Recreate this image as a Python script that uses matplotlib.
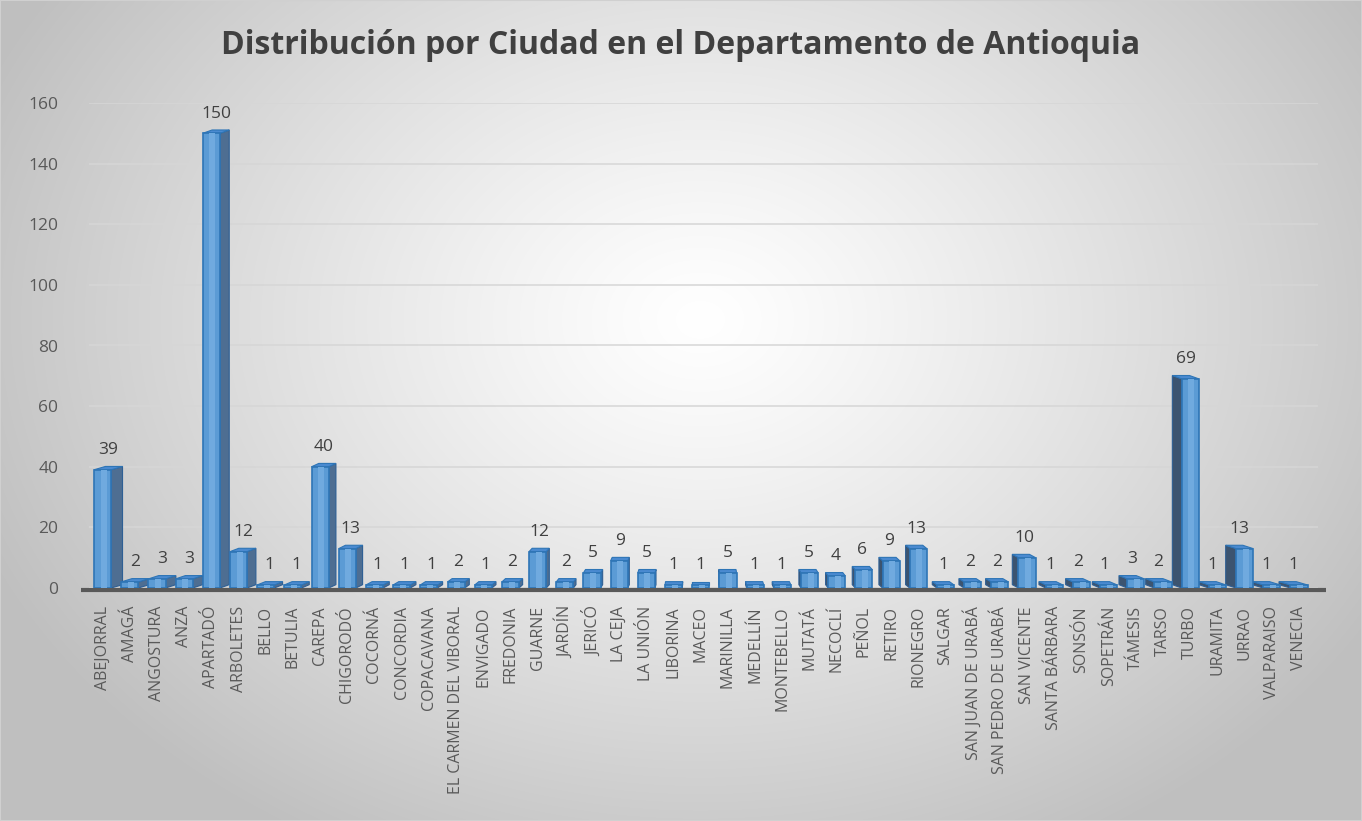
import numpy as np
import matplotlib
matplotlib.use("Agg")
import matplotlib.pyplot as plt
from matplotlib import font_manager
from matplotlib.patches import Rectangle

ciudades = ["ABEJORRAL", "AMAGÁ", "ANGOSTURA", "ANZA", "APARTADÓ", "ARBOLETES", "BELLO",
            "BETULIA", "CAREPA", "CHIGORODÓ", "COCORNÁ", "CONCORDIA", "COPACAVANA",
            "EL CARMEN DEL VIBORAL", "ENVIGADO", "FREDONIA", "GUARNE", "JARDÍN", "JERICÓ",
            "LA CEJA", "LA UNIÓN", "LIBORINA", "MACEO", "MARINILLA", "MEDELLÍN",
            "MONTEBELLO", "MUTATÁ", "NECOCLÍ", "PEÑOL", "RETIRO", "RIONEGRO", "SALGAR",
            "SAN JUAN DE URABÁ", "SAN PEDRO DE URABÁ", "SAN VICENTE", "SANTA BÁRBARA",
            "SONSÓN", "SOPETRÁN", "TÁMESIS", "TARSO", "TURBO", "URAMITA", "URRAO",
            "VALPARAISO", "VENECIA"]
cantidad = [39, 2, 3, 3, 150, 12, 1, 1, 40, 13, 1, 1, 1, 2, 1, 2, 12, 2, 5, 9, 5, 1, 1, 5,
            1, 1, 5, 4, 6, 9, 13, 1, 2, 2, 10, 1, 2, 1, 3, 2, 69, 1, 13, 1, 1]
y_ticks = [0, 20, 40, 60, 80, 100, 120, 140, 160]

titulo = "Distribución por Ciudad en el Departamento de Antioquia"

W, H = 1362, 821
fig = plt.figure(figsize=(W / 100, H / 100), dpi=100)

# radial gradient background
bg = fig.add_axes([0, 0, 1, 1], zorder=-10)
yy, xx = np.mgrid[0:H, 0:W]
r = np.sqrt(((xx - 700) / 780.0) ** 2 + ((yy - 320) / 600.0) ** 2)
r = np.clip(r, 0, 1)
shade = 1.0 - 0.25 * r ** 1.2
bg.imshow(np.dstack([shade] * 3), extent=[0, 1, 0, 1], aspect="auto")
bg.axis("off")
fig.patches.append(Rectangle((0, 0), 1, 1, transform=fig.transFigure, fill=False,
                             edgecolor="#D0D0D0", lw=1.5))

ax = fig.add_axes([89 / W, (H - 588) / H, (1318 - 89) / W, (588 - 103) / H])
ax.set_facecolor("none")
n = len(ciudades)
x = np.arange(n)
ax.set_xlim(-0.5, 44.7)
ax.set_ylim(0, 160)

ax.set_yticks(y_ticks)
ax.yaxis.grid(True, color="#D6D6D6", lw=1.1)
ax.set_axisbelow(True)
for s in ax.spines.values():
    s.set_visible(False)
ax.tick_params(axis="y", length=0, pad=22, labelsize=12.5, labelcolor="#595959")
ax.tick_params(axis="x", length=0, pad=13)
ax.set_xticks(x)
ax.set_xticklabels(ciudades, rotation=90, fontsize=11.5, color="#595959", family="Open Sans")
for lab in ax.get_yticklabels():
    lab.set_family("Open Sans")

# floor line
ax.plot([-0.78, 45.0], [-0.6, -0.6], color="#595959", lw=3, clip_on=False, zorder=1,
        solid_capstyle="butt")

w = 0.63
centro = 22.0
k = 0.019
t = 1.1
ax.bar(x, cantidad, width=w, color="#5B9BD5", edgecolor="#2E75B6", lw=1.2, zorder=4)
ax.bar(x + 0.04, cantidad, width=0.22, color="#70AADF", lw=0, zorder=4.5)
for i, v in enumerate(cantidad):
    d = k * (centro - i)
    x0, x1 = i - w / 2, i + w / 2
    # top face
    ax.fill([x0, x1, x1 + d, x0 + d], [v, v, v + t, v + t], color="#4A8AD0",
            ec="#2E75B6", lw=0.8, zorder=3.5)
    # side face
    xe = x1 if d > 0 else x0
    sc = "#4E6E92" if d > 0 else "#3C5470"
    ax.fill([xe, xe, xe + d, xe + d], [0, v, v + t, t], color=sc, ec="#2E5F94",
            lw=0.8, zorder=3)
    ax.annotate(str(v), (i + d / 2, v + t), xytext=(0, 6), textcoords="offset points",
                ha="center", va="bottom", fontsize=12.5, color="#404040", family="Open Sans")

# title, fitted to the reference width
fam = "Open Sans"
try:
    font_manager.findfont(font_manager.FontProperties(family="Liberation Sans Narrow"),
                          fallback_to_default=False)
    fam = "Liberation Sans Narrow"
except Exception:
    pass
tt = fig.text(0.5, 1 - 46 / H, titulo, ha="center", va="center", fontsize=30,
              fontweight="bold", color="#404040", family=fam)
fig.canvas.draw()
ancho = tt.get_window_extent().width
tt.set_fontsize(30 * 921 / ancho)

fig.savefig("out.png", dpi=100)
